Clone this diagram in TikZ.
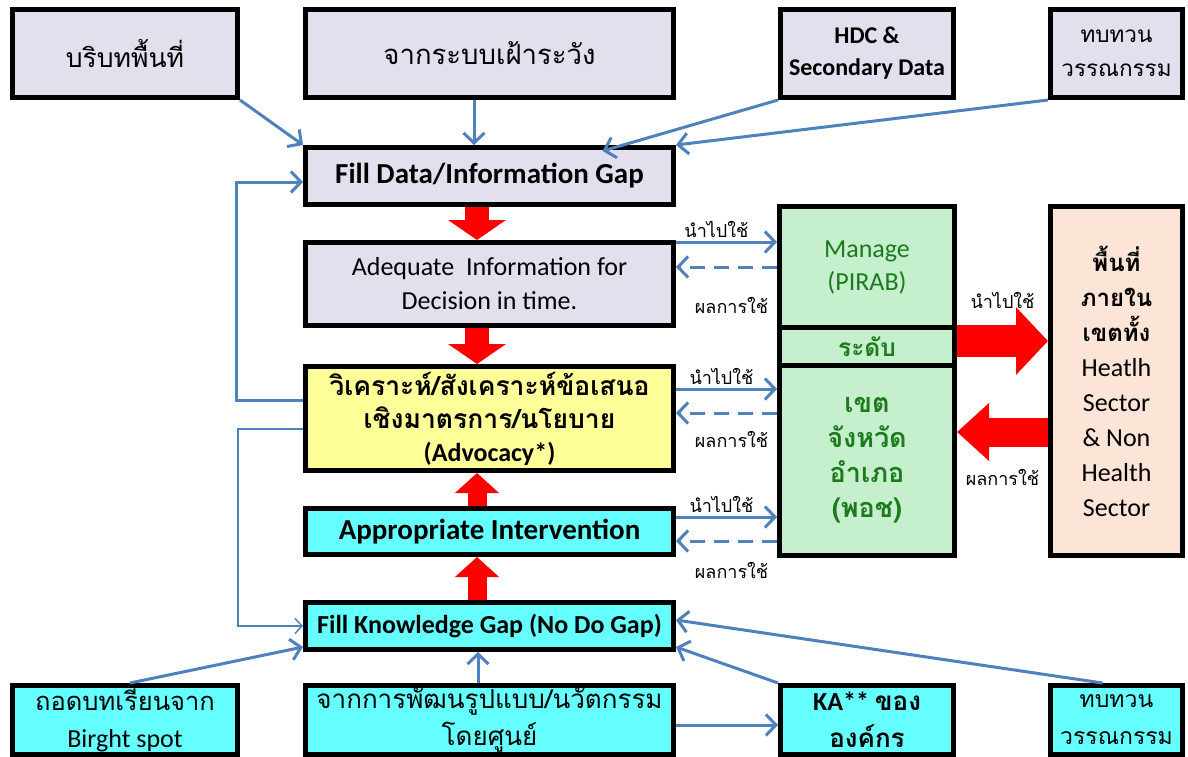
\documentclass[tikz,border=0pt]{standalone}
\usepackage{fontspec}
\setmainfont{Carlito}
\newfontfamily\thfont[Script=Thai]{Loma}
\usetikzlibrary{arrows.meta}
\definecolor{lav}{HTML}{E4DFEC}
\definecolor{yel}{HTML}{FFFF99}
\definecolor{cyn}{HTML}{66FFFF}
\definecolor{grn}{HTML}{C6EFCE}
\definecolor{grntext}{HTML}{1D7A1D}
\definecolor{peach}{HTML}{FCE4D6}
\definecolor{blu}{HTML}{4F81BD}

\begin{document}
\begin{tikzpicture}
[
x=1pt,y=-1pt,
box/.style={draw,line width=5pt,inner sep=0pt,align=center},
lavbox/.style={box,fill=lav},
yelbox/.style={box,fill=yel},
cynbox/.style={box,fill=cyn},
grnbox/.style={box,fill=grn,text=grntext},
areabox/.style={box,fill=peach},
flow/.style={draw=blu,line width=3pt,-{Straight Barb[length=10pt,width=21pt]}},
thinflow/.style={draw=blu,line width=1.5pt,-{Straight Barb[length=7pt,width=15pt]}},
back/.style={flow,dash pattern=on 15pt off 9pt},
use/.style={font=\fontsize{18}{20}\thfont,text=black},
push/.style={draw=red,line width=24pt,-{Triangle[length=20pt,width=57pt]}},
lift/.style={draw=red,line width=19pt,-{Triangle[length=20pt,width=43pt]}},
bigred/.style 2 args={draw=red,line width=#1,-{Triangle[length=32pt,width=#2]}},
]
\useasboundingbox (0,0) rectangle (1188,757);

%Place the nodes
\node[lavbox,minimum width=225pt,minimum height=88pt,font=\fontsize{26.5}{30}\thfont] (ctx) at (125,53.5) {บริบทพื้นที่};
\node[lavbox,minimum width=368pt,minimum height=88pt,font=\fontsize{27.5}{30}\thfont] (surv) at (489.5,53.5) {จากระบบเฝ้าระวัง};
\node[lavbox,minimum width=173pt,minimum height=88pt,font=\fontsize{24}{32}\selectfont\bfseries] (hdc) at (867,53.5) {HDC \&\\Secondary Data};
\node[lavbox,minimum width=132pt,minimum height=88pt,font=\fontsize{22.5}{34}\thfont] (lit) at (1116.5,53.5) {ทบทวน\\วรรณกรรม};

\node[lavbox,minimum width=368pt,minimum height=57pt,font=\fontsize{29}{30}\selectfont\bfseries] (fdg) at (489.5,176) {Fill Data/Information Gap};
\node[lavbox,minimum width=368pt,minimum height=83pt,font=\fontsize{26}{34}\selectfont] (adq) at (489.5,284) {Adequate\ \ Information for\\Decision in time.};
\node[yelbox,minimum width=368pt,minimum height=104pt,font=\fontsize{26.5}{33}\thfont\bfseries] (anl) at (489.5,418.5) {วิเคราะห์/สังเคราะห์ข้อเสนอ\\เชิงมาตรการ/นโยบาย\\{\normalfont\bfseries\fontsize{26}{33}\selectfont (Advocacy*)}};
\node[cynbox,minimum width=368pt,minimum height=46pt,font=\fontsize{29}{30}\selectfont\bfseries] (app) at (489.5,531.5) {Appropriate Intervention};
\node[cynbox,minimum width=368pt,minimum height=47pt,font=\fontsize{26}{30}\selectfont\bfseries] (fkg) at (489.5,626) {Fill Knowledge Gap (No Do Gap)};

\node[cynbox,minimum width=225pt,minimum height=69pt,font=\fontsize{26}{37}\selectfont] (brt) at (125,720) {{\thfont\fontsize{25.5}{37}\selectfont ถอดบทเรียนจาก}\\Birght spot};
\node[cynbox,minimum width=368pt,minimum height=69pt,font=\fontsize{26}{37}\thfont] (inv) at (489.5,720) {จากการพัฒนรูปแบบ/นวัตกรรม\\โดยศูนย์};
\node[cynbox,minimum width=173pt,minimum height=69pt,font=\fontsize{26}{37}\selectfont\bfseries] (ka) at (867,720) {KA** {\thfont ของ}\\{\thfont องค์กร}};
\node[cynbox,minimum width=132pt,minimum height=69pt,font=\fontsize{23}{37}\thfont] (lit2) at (1116.5,720) {ทบทวน\\วรรณกรรม};

\node[grnbox,minimum width=175pt,minimum height=121pt,font=\fontsize{26}{33}\selectfont] (mng) at (867,267) {Manage\\(PIRAB)};
\node[grnbox,minimum width=175pt,minimum height=38pt,font=\fontsize{24.5}{30}\thfont\bfseries] (lvl) at (867,346.5) {ระดับ};
\node[grnbox,minimum width=175pt,minimum height=190pt,font=\fontsize{27}{35}\thfont\bfseries] (dst) at (867,460.5) {เขต\\จังหวัด\\อำเภอ\\(พอช)};

\node[areabox,minimum width=132pt,minimum height=349pt,font=\fontsize{26}{35}\selectfont] (area) at (1116.5,381) {{\thfont\bfseries\fontsize{24}{35}\selectfont พื้นที่}\\{\thfont\bfseries\fontsize{24}{35}\selectfont ภายใน}\\{\thfont\bfseries\fontsize{24}{35}\selectfont เขตทั้ง}\\Heatlh\\Sector\\\& Non\\Health\\Sector};

%Draw the connections
\draw[flow] (ctx.south east) -- (fdg.north west);
\draw[flow] ([xshift=-15.5]surv.south) -- ([xshift=-15.5]fdg.north);
\draw[flow] (hdc.south west) -- ([shift={(113,6)}]fdg.north);
\draw[flow] (lit.south west) -- (fdg.north east);

\draw[push] ([xshift=-12.5]fdg.south) -- ([xshift=-12.5]adq.north);
\draw[push] ([xshift=-12.5]adq.south) -- ([xshift=-12.5]anl.north);
\draw[lift] ([xshift=-12.5]app.north) -- ([xshift=-12.5]anl.south);
\draw[lift] ([xshift=-12.5]fkg.north) -- ([xshift=-12.5]app.south);

\draw[flow] ([yshift=42]adq.east) -- node[use,above,pos=0.4] {นำไปใช้} ([yshift=25]mng.west);
\draw[back] (mng.west) -- node[use,below=26pt,pos=0.45] {ผลการใช้} ([yshift=17]adq.east);
\draw[flow] ([yshift=29.5]anl.east) -- node[use,above,pos=0.45] {นำไปใช้} ([yshift=71.5]dst.west);
\draw[back] ([yshift=47.5]dst.west) -- node[use,below=13pt,pos=0.45] {ผลการใช้} ([yshift=5.5]anl.east);
\draw[flow] ([yshift=14.5]app.east) -- node[use,above,pos=0.45] {นำไปใช้} ([yshift=-56.5]dst.west);
\draw[back] ([yshift=-80.5]dst.west) -- node[use,below=16pt,pos=0.45] {ผลการใช้} ([yshift=-9.5]app.east);

\draw[bigred={32pt}{66pt}] ([yshift=5.5]lvl.east) -- node[use,above=13pt] {นำไปใช้} ([yshift=40]area.west);
\draw[bigred={29pt}{56pt}] ([yshift=-51]area.west) -- node[use,below=19pt] {ผลการใช้} ([yshift=28.5]dst.east);

\draw[flow] ([yshift=18.5]anl.west) -- ++(-67,0) |- ([yshift=-6]fdg.west);
\draw[thinflow] ([yshift=-10.5]anl.west) -- ++(-65,0) |- (fkg.west);

\draw[flow] ([xshift=5]brt.north) -- ([yshift=5]fkg.south west);
\draw[flow] ([xshift=-11.5]inv.north) -- ([xshift=-11.5]fkg.south);
\draw[flow] (ka.north west) -- ([yshift=5]fkg.south east);
\draw[flow] ([xshift=-14]lit2.north) -- ([yshift=6]fkg.east);
\draw[flow] ([yshift=-5]inv.east) -- ([yshift=-5]ka.west);
\end{tikzpicture}
\end{document}
